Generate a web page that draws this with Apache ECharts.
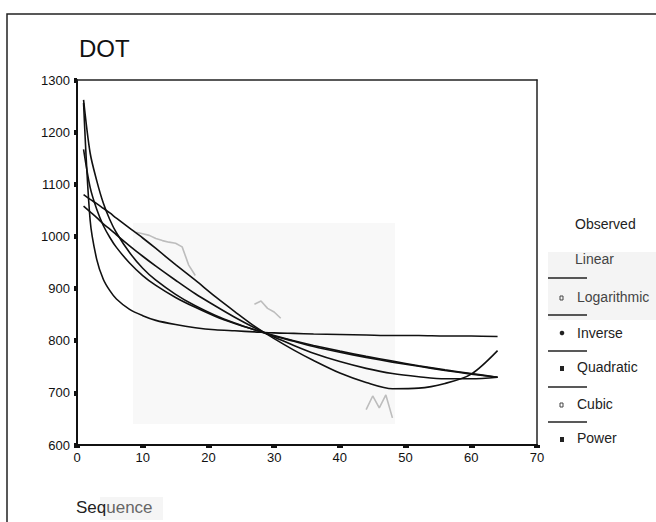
<!DOCTYPE html>
<html>
<head>
<meta charset="utf-8">
<script src="https://cdn.jsdelivr.net/npm/echarts@6/dist/echarts.min.js"></script>
<style>
  html, body { margin: 0; padding: 0; background: #fff; }
  #chart { width: 656px; height: 522px; }
</style>
</head>
<body>
<div id="chart"></div>
<script>
// Sequence positions at which the fitted curves are sampled
const seq = [1, 2, 3, 4, 5, 6, 8, 10, 12, 15, 18, 21, 24, 27, 30, 33, 36, 40, 44, 48, 52, 56, 60, 64];

// Fitted curves for DOT
const logarithmic = [1167, 1094, 1052, 1021, 998, 979, 949, 925, 906, 883, 864, 847, 833, 821, 810, 800, 791, 780, 770, 761, 752, 744, 737, 730];
const inverse     = [1256, 1031, 956, 918, 896, 880, 860, 848, 839, 831, 825, 821, 819, 817, 815, 814, 813, 812, 811, 810, 810, 809, 809, 808];
const quadratic   = [1058, 1047, 1036, 1024, 1014, 1003, 982, 962, 943, 916, 890, 867, 845, 825, 807, 791, 776, 760, 747, 737, 731, 727, 727, 730];
const cubic       = [1080, 1071, 1063, 1054, 1045, 1035, 1016, 997, 977, 946, 916, 885, 856, 828, 804, 782, 762, 738, 720, 708, 709, 718, 736, 781];
const power       = [1262, 1160, 1107, 1064, 1032, 1007, 969, 939, 916, 889, 867, 849, 834, 821, 809, 799, 789, 778, 768, 759, 751, 743, 736, 730];

// Observed DOT values (only the visible stretches; null = gap)
const obsSeq   = [9, 10, 11, 12, 13, 14, 15, 16, 17, 18, 19, 26, 27, 28, 29, 30, 31, 32, 43, 44, 45, 46, 47, 48];
const observed = [1008, 1005, 1002, 996, 992, 989, 987, 980, 945, 925, null, null, 870, 876, 862, 855, 843, null, null, 668, 694, 671, 696, 652];

// Axis ticks
const xTicks = { min: 0, max: 70, step: 10 };
const yTicks = { min: 600, max: 1300, step: 100 };

const legendNames = ['Observed', 'Linear', 'Logarithmic', 'Inverse', 'Quadratic', 'Cubic', 'Power'];

const pairs = (xs, ys) => xs.map((x, i) => [x, ys[i] == null ? '-' : ys[i]]);

const fitStyle = { color: '#111', width: 1.6 };
function fit(name, values) {
  return {
    name, type: 'line', data: pairs(seq, values),
    showSymbol: false, smooth: 0.3, lineStyle: fitStyle, z: 3,
    silent: true, animation: false
  };
}

const FONT = '"Liberation Sans", Arial, sans-serif';
const legendX = 548, legendText = 577, legendMark = 562;

// Legend: labels, sample lines and markers
const legendGraphics = [
  { type: 'rect', shape: { x: 548, y: 252, width: 120, height: 68 }, style: { fill: '#f4f4f4' }, z: -5 },
  { type: 'text', left: 575, top: 217, style: { text: legendNames[0], font: '14px ' + FONT, fill: '#222' } },
  { type: 'text', left: 575, top: 252, style: { text: legendNames[1], font: '14px ' + FONT, fill: '#444' } },
  { type: 'text', left: legendText, top: 290, style: { text: legendNames[2], font: '14px ' + FONT, fill: '#444' } },
  { type: 'text', left: legendText, top: 326, style: { text: legendNames[3], font: '14px ' + FONT, fill: '#222' } },
  { type: 'text', left: legendText, top: 360, style: { text: legendNames[4], font: '14px ' + FONT, fill: '#222' } },
  { type: 'text', left: legendText, top: 397, style: { text: legendNames[5], font: '14px ' + FONT, fill: '#222' } },
  { type: 'text', left: legendText, top: 431, style: { text: legendNames[6], font: '14px ' + FONT, fill: '#222' } }
];
[278, 315, 351, 387, 422].forEach(function (y) {
  legendGraphics.push({ type: 'line', shape: { x1: legendX, y1: y, x2: legendX + 39, y2: y }, style: { stroke: '#222', lineWidth: 1.4 } });
});
legendGraphics.push(
  { type: 'rect', shape: { x: legendMark - 2, y: 296, width: 3, height: 4 }, style: { fill: 'none', stroke: '#444', lineWidth: 1 } },
  { type: 'circle', shape: { cx: legendMark, cy: 333, r: 2.3 }, style: { fill: '#222' } },
  { type: 'rect', shape: { x: legendMark - 2, y: 366, width: 4, height: 5 }, style: { fill: '#222' } },
  { type: 'rect', shape: { x: legendMark - 2, y: 403, width: 3, height: 4 }, style: { fill: 'none', stroke: '#444', lineWidth: 1 } },
  { type: 'rect', shape: { x: legendMark - 2, y: 437, width: 4, height: 5 }, style: { fill: '#222' } }
);

const chart = echarts.init(document.getElementById('chart'), null, { renderer: 'svg' });
chart.setOption({
  animation: false,
  backgroundColor: '#fff',
  title: {
    text: 'DOT', left: 74, top: 31,
    textStyle: { fontFamily: FONT, fontSize: 24, fontWeight: 'normal', color: '#111' }
  },
  grid: { left: 77, right: 119, top: 80, bottom: 77, containLabel: false },
  xAxis: [{
    type: 'value', min: xTicks.min, max: xTicks.max, interval: xTicks.step,
    axisLine: { onZero: false, lineStyle: { color: '#111', width: 2 } },
    axisTick: { length: 3, lineStyle: { color: '#111', width: 6 } },
    axisLabel: { fontFamily: FONT, fontSize: 13, color: '#111', margin: 6, formatter: v => String(v) },
    splitLine: { show: false }
  }, {
    type: 'value', position: 'top', min: xTicks.min, max: xTicks.max,
    axisLine: { show: true, onZero: false, lineStyle: { color: '#222', width: 1.5 } },
    axisTick: { show: false }, axisLabel: { show: false }, splitLine: { show: false }
  }],
  yAxis: [{
    type: 'value', min: yTicks.min, max: yTicks.max, interval: yTicks.step,
    axisLine: { show: true, onZero: false, lineStyle: { color: '#111', width: 2 } },
    axisTick: { show: true, length: 3, lineStyle: { color: '#111', width: 5 } },
    axisLabel: { fontFamily: FONT, fontSize: 13, color: '#111', margin: 7, formatter: v => String(v) },
    splitLine: { show: false }
  }, {
    type: 'value', position: 'right', min: yTicks.min, max: yTicks.max,
    axisLine: { show: true, onZero: false, lineStyle: { color: '#222', width: 1.5 } },
    axisTick: { show: false }, axisLabel: { show: false }, splitLine: { show: false }
  }],
  graphic: [
    // outer frame
    { type: 'rect', shape: { x: 7, y: 14, width: 700, height: 600 }, style: { fill: 'none', stroke: '#222', lineWidth: 1.5 }, z: 10 },
    // light paper patch over the middle of the plot
    { type: 'rect', shape: { x: 133, y: 223, width: 262, height: 201 }, style: { fill: '#f8f8f8' }, z: -10 },
    // light patch behind the axis title
    { type: 'rect', shape: { x: 100, y: 497, width: 63, height: 23 }, style: { fill: '#f5f5f5' }, z: -10 },
    {
      type: 'text', left: 76, top: 499,
      style: { text: '{a|Seq}{b|uence}', rich: { a: { font: '17px ' + FONT, fill: '#222' }, b: { font: '17px ' + FONT, fill: '#666' } } }
    }
  ].concat(legendGraphics),
  series: [
    {
      name: 'Observed', type: 'line', data: pairs(obsSeq, observed),
      showSymbol: false, smooth: false, connectNulls: false,
      lineStyle: { color: '#bdbdbd', width: 1.6 }, z: 2, silent: true
    },
    fit('Logarithmic', logarithmic),
    fit('Inverse', inverse),
    fit('Quadratic', quadratic),
    fit('Cubic', cubic),
    fit('Power', power)
  ]
});
</script>
</body>
</html>
